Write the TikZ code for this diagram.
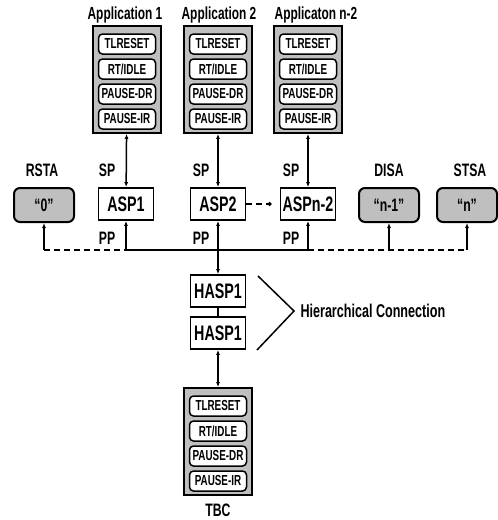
\documentclass[tikz,border=0pt]{standalone}
\usepackage{fontspec}
\newfontfamily\cnd[FakeStretch=0.68]{Liberation Sans}
\usetikzlibrary{arrows.meta}

\begin{document}
\begin{tikzpicture}[x=1pt, y=-1pt, >={Latex[length=5pt,width=4pt]}, font=\cnd\bfseries,
          frm/.style={draw, line width=1.8pt, fill=gray!50, minimum width=68pt, minimum height=107pt},
          reg/.style={draw, line width=1.5pt, fill=white, rounded corners=4pt, minimum width=57pt, minimum height=20pt, inner sep=1pt, font=\cnd\bfseries\fontsize{14.5}{14.5}\selectfont},
          asp/.style={draw, line width=1.8pt, fill=white, minimum width=55pt, minimum height=32pt, inner sep=1pt, font=\cnd\bfseries\fontsize{21}{21}\selectfont},
          sta/.style={draw, line width=2pt, fill=gray!50, rounded corners=6pt, minimum width=60pt, minimum height=34pt, font=\cnd\bfseries\fontsize{18}{18}\selectfont},
          lbl/.style={font=\cnd\bfseries\fontsize{18}{18}\selectfont},
          bus/.style={line width=1.5pt},
          dsh/.style={bus, dash pattern=on 6pt off 4pt}]
          \useasboundingbox (0,0) rectangle (498,520);
          % application boxes with their registers
          \foreach \i/\x/\tx/\t in {1/127/125/Application 1, 2/218/219/Application 2, 3/308/316/Applicaton n-2} {
            \node[lbl, font=\cnd\bfseries\fontsize{17.5}{17.5}\selectfont] (t\i) at (\tx,15) {\t};
            \node[frm] (app\i) at (\x,79.5) {};
            \foreach \r [count=\k] in {TLRESET,{RT/IDLE},PAUSE-DR,PAUSE-IR}
              \node[reg] (app\i-\k) at (\x,19+25*\k) {\r};
          }
          % test bus controller
          \node[frm] (tbc) at (218,441.5) {};
          \foreach \r [count=\k] in {TLRESET,{RT/IDLE},PAUSE-DR,PAUSE-IR}
            \node[reg] (tbc-\k) at (218,381+25*\k) {\r};
          \node[lbl] (tbclbl) at (218,510) {TBC};
          % ASPs
          \node[asp] (asp1) at (126,204) {ASP1};
          \node[asp] (asp2) at (218,204) {ASP2};
          \node[asp] (asp3) at (308,204) {ASPn-2};
          \node[asp] (hasp1) at (218,291) {HASP1};
          \node[asp] (hasp2) at (218,333) {HASP1};
          % slaves
          \node[sta] (rsta) at (44,205) {“0”};
          \node[sta] (disa) at (389,205) {“n-1”};
          \node[sta] (stsa) at (467,205) {“n”};
          \node[lbl] (rstal) at (42,170) {RSTA};
          \node[lbl] (disal) at (389,170) {DISA};
          \node[lbl] (stsal) at (470,170) {STSA};
          \foreach \i/\x in {1/107, 2/201, 3/291} {
            \node[lbl] (sp\i) at (\x,170) {SP};
            \node[lbl] (pp\i) at (\x,238) {PP};
            \draw[bus, <->] (app\i) -- (asp\i);
          }
          % bus
          \coordinate (b) at (0,250);
          \draw[dsh] (rsta |- b) -- (asp1 |- b);
          \draw[bus] (asp1 |- b) -- (asp3 |- b);
          \draw[dsh] (asp3 |- b) -- (stsa |- b);
          \draw[bus, ->] (rsta |- b) -- (rsta);
          \draw[bus, ->] (disa |- b) -- (disa);
          \draw[bus, ->] (stsa |- b) -- (stsa);
          \draw[bus, ->] (asp1 |- b) -- (asp1);
          \draw[bus, ->] (asp3 |- b) -- (asp3);
          \draw[bus, <->] (asp2) -- (hasp1);
          \draw[bus] (hasp1) -- (hasp2);
          \draw[bus, <->] (hasp2) -- (tbc);
          \draw[dsh, -{Circle[length=4pt]}, shorten >=8pt] (asp2) -- (asp3);
          % hierarchical connection
          \coordinate (hc) at (294,311);
          \draw[line width=1.5pt] (258,276) -- (hc) -- (257,350);
          \node[lbl, anchor=west, font=\cnd\bfseries\fontsize{18.5}{18.5}\selectfont] (hcl) at (297,311) {Hierarchical Connection};
        \end{tikzpicture}
\end{document}
